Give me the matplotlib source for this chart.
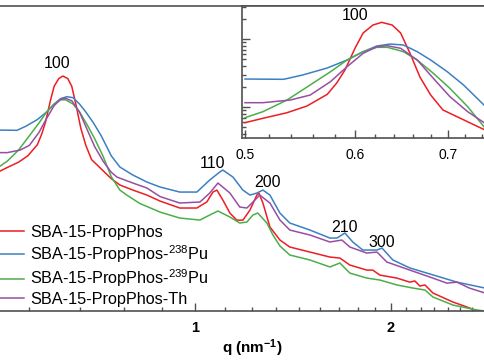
import matplotlib
matplotlib.use("Agg")
import matplotlib.pyplot as plt
from matplotlib.ticker import FixedLocator, NullFormatter, NullLocator, LogLocator

plt.rcParams['font.family'] = ['Liberation Sans', 'DejaVu Sans']
plt.rcParams['mathtext.fontset'] = 'custom'
plt.rcParams['mathtext.rm'] = 'Liberation Sans'
plt.rcParams['mathtext.bf'] = 'Liberation Sans:bold'
plt.rcParams['mathtext.default'] = 'regular'

# ---------------- data (q in nm^-1, intensity in a.u.) ----------------
q_red = [0.500, 0.515, 0.536, 0.554, 0.573, 0.582, 0.590, 0.600, 0.608, 0.618, 0.627,
         0.638, 0.647, 0.657, 0.668, 0.680, 0.694, 0.711, 0.726, 0.744,
         0.767, 0.803, 0.844, 0.884, 0.948, 1.007, 1.043, 1.066, 1.081, 1.104, 1.132,
         1.160, 1.185, 1.215, 1.245, 1.254, 1.272, 1.304, 1.351, 1.399, 1.502, 1.612,
         1.670, 1.730, 1.837, 1.876, 1.924, 2.043, 2.139, 2.177, 2.216, 2.256, 2.321,
         2.491, 2.618, 2.712, 2.790]
i_red = [0.588, 0.682, 0.824, 1.034, 1.538, 2.254, 3.50, 7.37, 12.25, 16.07, 17.60,
         16.07, 12.25, 6.22, 2.76, 1.50, 0.903, 0.713, 0.582, 0.459,
         0.366, 0.306, 0.256, 0.207, 0.1616, 0.1616, 0.200, 0.285, 0.306, 0.215, 0.135,
         0.105, 0.105, 0.150, 0.256, 0.275, 0.193, 0.0823, 0.0518, 0.0404, 0.0338, 0.0283,
         0.0273, 0.0213, 0.0178, 0.0178, 0.0149, 0.0134, 0.0116, 0.0121, 0.0101, 0.0105, 0.00788,
         0.00572, 0.00479, 0.00416, 0.00387]

q_blue = [0.500, 0.533, 0.550, 0.573, 0.592, 0.608, 0.622, 0.636, 0.650, 0.665, 0.680,
          0.699, 0.718, 0.744,
          0.767, 0.803, 0.844, 0.884, 0.948, 1.007, 1.054, 1.092, 1.104, 1.144, 1.185,
          1.215, 1.245, 1.272, 1.304, 1.351, 1.399, 1.502, 1.612, 1.653, 1.700, 1.748,
          1.811, 1.904, 1.938, 2.014, 2.139, 2.296, 2.527, 2.790]
i_blue = [2.58, 2.555, 2.955, 3.75, 4.91, 6.51, 7.89, 8.44, 8.16, 6.51, 4.91,
          3.30, 2.11, 1.034,
          0.694, 0.522, 0.407, 0.341, 0.285, 0.285, 0.437, 0.581, 0.623, 0.486, 0.306,
          0.256, 0.275, 0.306, 0.256, 0.135, 0.0948, 0.0739, 0.0556, 0.0556, 0.0665, 0.0483,
          0.0363, 0.0363, 0.0390, 0.0255, 0.0192, 0.0155, 0.0116, 0.0094]

q_green = [0.500, 0.515, 0.536, 0.557, 0.576, 0.592, 0.608, 0.622, 0.633, 0.650, 0.665,
           0.683, 0.702, 0.723, 0.744,
           0.767, 0.786, 0.823, 0.884, 0.948, 1.018, 1.054, 1.085, 1.132, 1.172, 1.202,
           1.228, 1.249, 1.290, 1.318, 1.351, 1.399, 1.502, 1.612, 1.670, 1.730, 1.837,
           1.924, 2.043, 2.162, 2.256, 2.321, 2.491, 2.712, 2.790]
i_green = [0.696, 0.853, 1.267, 2.11, 3.30, 4.91, 6.51, 7.55, 7.55, 6.51, 4.91,
           3.13, 1.88, 1.01, 0.491,
           0.306, 0.256, 0.190, 0.140, 0.1132, 0.1054, 0.126, 0.1452, 0.1173, 0.0948, 0.0982,
           0.126, 0.1353, 0.0948, 0.0619, 0.0419, 0.0304, 0.0255, 0.0199, 0.0229, 0.0160, 0.0134,
           0.0125, 0.0105, 0.0094, 0.00877, 0.00684, 0.00514, 0.00431, 0.00416]

q_purple = [0.500, 0.515, 0.539, 0.557, 0.576, 0.592, 0.608, 0.622, 0.633, 0.647, 0.665,
            0.683, 0.702, 0.723, 0.744,
            0.759, 0.803, 0.844, 0.884, 0.948, 1.018, 1.054, 1.085, 1.132, 1.172, 1.202,
            1.228, 1.258, 1.304, 1.351, 1.399, 1.502, 1.612, 1.682, 1.730, 1.837, 1.904,
            1.972, 2.139, 2.296, 2.438, 2.527, 2.640, 2.790]
i_purple = [1.157, 1.157, 1.267, 1.50, 2.36, 3.91, 6.16, 7.70, 7.97, 7.30, 4.91,
            2.64, 1.42, 0.853, 0.576,
            0.486, 0.393, 0.329, 0.243, 0.193, 0.200, 0.275, 0.393, 0.275, 0.1674, 0.1616,
            0.200, 0.256, 0.193, 0.1054, 0.0739, 0.0619, 0.0483, 0.0518, 0.0404, 0.0326, 0.0338,
            0.0237, 0.0178, 0.0139, 0.0112, 0.0116, 0.0094, 0.00788]

labels = ['SBA-15-PropPhos', 'SBA-15-PropPhos-$^{238}$Pu',
          'SBA-15-PropPhos-$^{239}$Pu', 'SBA-15-PropPhos-Th']
colors = ['#ee1d23', '#3b80c2', '#4cae4a', '#984ea3']

peak_labels = ['100', '110', '200', '210', '300']
peak_q = [0.614, 1.066, 1.295, 1.700, 1.937]
peak_i = [27.9, 0.80, 0.407, 0.0822, 0.0483]

series = [(q_red, i_red), (q_blue, i_blue), (q_green, i_green), (q_purple, i_purple)]

# ---------------- figure ----------------
W, H = 485, 360
fig = plt.figure(figsize=(W / 100, H / 100), dpi=100)
spine_c = '#505050'

ax = fig.add_axes([0, 49 / H, 1, 305 / H])
for (qq, ii), c, lab in zip(series, colors, labels):
    ax.plot(qq, ii, color=c, lw=1.1, label=lab)
ax.set_xscale('log')
ax.set_yscale('log')
ax.set_xlim(0.502, 2.79)
ax.set_ylim(0.00416, 212)
for s in ['left', 'right']:
    ax.spines[s].set_visible(False)
for s in ['top', 'bottom']:
    ax.spines[s].set_color(spine_c)
    ax.spines[s].set_linewidth(1.2)
ax.xaxis.set_major_locator(FixedLocator([1, 2]))
ax.set_xticklabels(['1', '2'], fontweight='bold', fontsize=10.5)
minor = [1 - k / 9 for k in range(1, 5)] + [1 + k / 9 for k in range(1, 9)] + [2 + k / 9 for k in range(1, 7)]
ax.xaxis.set_minor_locator(FixedLocator(minor))
ax.xaxis.set_minor_formatter(NullFormatter())
ax.tick_params(axis='x', which='major', direction='in', length=6, width=1, color=spine_c, pad=7)
ax.tick_params(axis='x', which='minor', direction='in', length=3, width=1, color=spine_c)
ax.yaxis.set_major_locator(NullLocator())
ax.yaxis.set_minor_locator(NullLocator())
ax.set_xlabel(r'q (nm$^{\mathbf{-1}}$)', fontweight='bold', fontsize=11)
ax.xaxis.set_label_coords(252 / W, -0.088)

for t, qv, iv in zip(peak_labels, peak_q, peak_i):
    ax.text(qv, iv, t, ha='center', va='center', fontsize=11.5)

leg = ax.legend(loc='upper left', bbox_to_anchor=(-6.7 / W, (H - 225) / H),
                bbox_transform=fig.transFigure, frameon=False, fontsize=11.7,
                handlelength=1.9, handletextpad=0.35, labelspacing=0.18,
                borderpad=0, borderaxespad=0)

# ---------------- inset ----------------
axi = fig.add_axes([242 / W, (H - 138) / H, (W - 242) / W, 132 / H])
for (qq, ii), c in zip(series, colors):
    axi.plot(qq, ii, color=c, lw=1.1)
axi.set_xscale('log')
axi.set_yscale('log')
axi.set_xlim(0.4975, 0.744)
axi.set_ylim(0.35, 30.6)
axi.spines['right'].set_visible(False)
for s in ['top', 'left', 'bottom']:
    axi.spines[s].set_color(spine_c)
    axi.spines[s].set_linewidth(1.2)
axi.xaxis.set_major_locator(FixedLocator([0.5, 0.6, 0.7]))
axi.set_xticklabels(['0.5', '0.6', '0.7'], fontsize=10)
axi.xaxis.set_minor_locator(FixedLocator([0.52, 0.54, 0.56, 0.58, 0.62, 0.64, 0.66, 0.68, 0.72, 0.74]))
axi.xaxis.set_minor_formatter(NullFormatter())
axi.yaxis.set_major_locator(LogLocator(base=10))
axi.yaxis.set_minor_locator(LogLocator(base=10, subs=range(2, 10)))
axi.yaxis.set_major_formatter(NullFormatter())
axi.yaxis.set_minor_formatter(NullFormatter())
axi.tick_params(which='major', direction='in', length=6, width=1, color=spine_c, pad=7)
axi.tick_params(which='minor', direction='in', length=3, width=1, color=spine_c)
axi.text(0.6, 22.5, '100', ha='center', va='center', fontsize=11.5)

fig.savefig('out.png', dpi=100)
